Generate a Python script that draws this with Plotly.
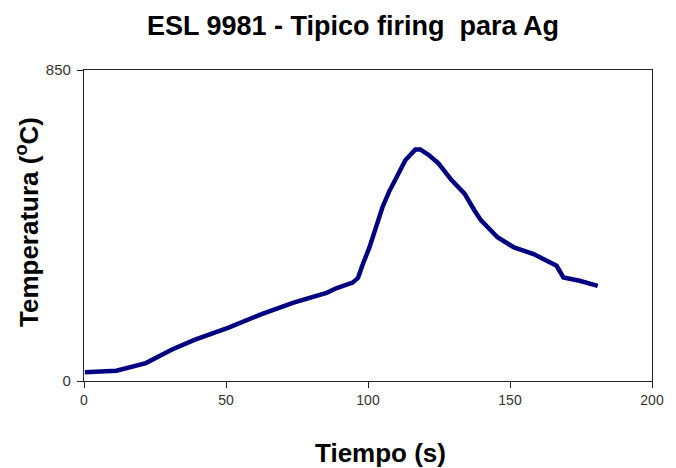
import plotly.graph_objects as go

# Firing profile: time (s) vs. temperature (°C)
tiempo = [0.3, 11.4, 21.8, 31.0, 39.1, 50.7, 62.3, 73.8, 85.4, 89.0, 94.6, 96.5,
          98.2, 100.5, 102.8, 105.1, 107.4, 110.3, 113.2, 116.7, 118.4, 121.3,
          124.8, 129.4, 134.0, 137.5, 139.8, 145.6, 151.4, 158.3, 161.8, 166.4,
          168.8, 174.5, 180.9]
temperatura = [24, 28, 49, 86, 113, 145, 182, 214, 241, 254, 269, 282,
               320, 365, 420, 475, 517, 563, 604, 633, 633, 618,
               595, 549, 512, 466, 439, 393, 365, 347, 333, 315,
               283, 274, 260]

x_ticks = [0, 50, 100, 150, 200]
y_ticks = [0, 850]

fig = go.Figure()
fig.add_trace(go.Scatter(
    x=tiempo, y=temperatura, mode="lines",
    line=dict(color="#000080", width=4.5),
    showlegend=False, hoverinfo="skip",
))

W, H = 676, 468
L, R, T, B = 84, 14, 70, 87
PW, PH = W - L - R, H - T - B

axis_common = dict(
    showgrid=False, zeroline=False, showline=True, mirror=True,
    linecolor="#222222", linewidth=1.3,
    ticks="outside", ticklen=6, tickwidth=1.3, tickcolor="#222222",
)
tick_font = dict(family="Liberation Sans, Arial, sans-serif", color="#333333")

fig.update_xaxes(range=[0, 200], tickvals=x_ticks, ticktext=[str(v) for v in x_ticks],
                 tickfont=dict(size=14, **tick_font), **axis_common)
fig.update_yaxes(range=[0, 850], tickvals=y_ticks, ticktext=[str(v) for v in y_ticks],
                 tickfont=dict(size=15, **tick_font), ticklabelstandoff=3,
                 **axis_common)

bold = dict(family="Liberation Sans, Arial, sans-serif", color="#000000")

fig.update_layout(
    width=W, height=H,
    margin=dict(l=L, r=R, t=T, b=B),
    paper_bgcolor="white", plot_bgcolor="white",
    annotations=[
        dict(text="<b>ESL 9981 - Tipico firing  para Ag</b>",
             xref="paper", yref="paper",
             x=(358 - L) / PW, y=1 + (T - 26) / PH,
             xanchor="center", yanchor="middle", showarrow=False,
             font=dict(size=27, **bold)),
        dict(text="<b>Tiempo (s)</b>",
             xref="paper", yref="paper",
             x=(386 - L) / PW, y=-(453 - (H - B)) / PH,
             xanchor="center", yanchor="middle", showarrow=False,
             font=dict(size=26, **bold)),
        dict(text="<b>Temperatura (<sup>o</sup>C)</b>",
             xref="paper", yref="paper",
             x=-(L - 26) / PW, y=1 - (222 - T) / PH,
             xanchor="center", yanchor="middle", showarrow=False,
             textangle=-90,
             font=dict(size=26, **bold)),
    ],
)

fig.write_html("out.html")
